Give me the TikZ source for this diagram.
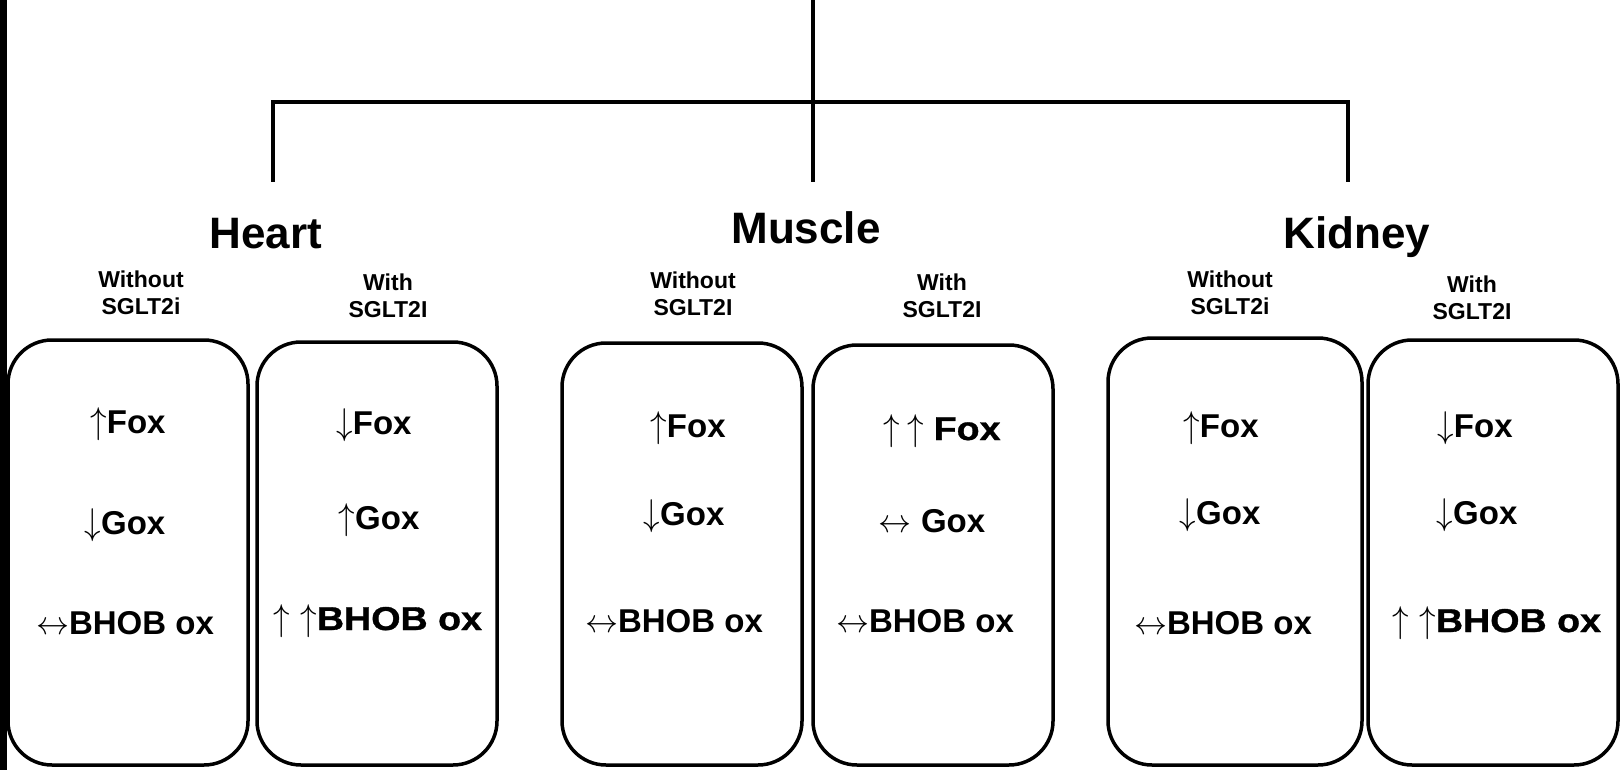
\RequirePackage{fix-cm}
\documentclass[tikz,border=0pt]{standalone}
\usepackage{fontspec}
\usepackage{graphicx}
\setmainfont{Liberation Sans}
\newfontfamily\heavyfont[BoldFeatures={FakeStretch=1.14,FakeBold=1}]{Liberation Sans}
\newcommand\myup{\scalebox{1}[1.13]{$\uparrow$}}
\newcommand\mydown{\scalebox{1}[1.13]{$\downarrow$}}
\newcommand\mylr{$\leftrightarrow$}
\begin{document}
\begin{tikzpicture}[x=1pt,y=-1pt,
  organ/.style={font=\bfseries\fontsize{44}{50}\selectfont, inner sep=0pt, anchor=base},
  cond/.style={font=\bfseries\fontsize{23}{27}\selectfont, align=center, inner sep=0pt},
  panel/.style={draw, line width=3.5pt, rounded corners=44pt, inner sep=0pt, minimum width=#1},
  entry/.style={font=\bfseries\fontsize{33}{40}\selectfont, inner sep=0pt, anchor=base},
  tree/.style={line width=4.5pt}]
\useasboundingbox (0,0) rectangle (1621,770);
\fill[white] (0,0) rectangle (1621,770);
\fill[black] (0,0) rectangle (7,770);

% tree
\coordinate (root) at (813,-3);
\coordinate (hub) at (813,102);
\coordinate (hd) at (273,182);
\coordinate (md) at (813,182);
\coordinate (kd) at (1348,182);
\draw[tree] (root) -- (md);
\draw[tree] (hd) |- (hub) -| (kd);

% organ labels
\node[organ] (heart) at (266,248) {Heart};
\node[organ] (muscle) at (806,243) {Muscle};
\node[organ] (kidney) at (1357,248) {Kidney};

% condition labels
\node[cond] (hwo) at (141,293) {Without\\SGLT2i};
\node[cond] (hw) at (388,296) {With\\SGLT2I};
\node[cond] (mwo) at (693,294) {Without\\SGLT2I};
\node[cond] (mw) at (942,296) {With\\SGLT2I};
\node[cond] (kwo) at (1230,293) {Without\\SGLT2i};
\node[cond] (kw) at (1472,298) {With\\SGLT2I};

% panels
\node[panel=240pt, minimum height=425pt] (b1) at (128,552.5) {};
\node[panel=240pt, minimum height=423pt] (b2) at (377,553.5) {};
\node[panel=240pt, minimum height=422pt] (b3) at (682,554) {};
\node[panel=240pt, minimum height=420pt] (b4) at (933,555) {};
\node[panel=254pt, minimum height=427pt] (b5) at (1235,551.5) {};
\node[panel=250pt, minimum height=425pt] (b6) at (1493,552.5) {};

% box 1
\node[entry] (b1f) at (128,433) {\myup Fox};
\node[entry] (b1g) at (125,534) {\mydown Gox};
\node[entry] (b1b) at (125,634) {\mylr BHOB ox};
% box 2
\node[entry] (b2f) at (374,434) {\mydown Fox};
\node[entry] (b2g) at (379,529) {\myup Gox};
\node[entry] (b2b) at (378,630) {\myup\kern10pt\myup{\heavyfont\bfseries BHOB ox}};
% box 3
\node[entry] (b3f) at (688,437) {\myup Fox};
\node[entry] (b3g) at (684,525) {\mydown Gox};
\node[entry] (b3b) at (674,632) {\mylr BHOB ox};
% box 4
\node[entry] (b4f) at (942,440) {\myup\kern8pt\myup\ {\heavyfont\bfseries Fox}};
\node[entry] (b4g) at (932,532) {\mylr\ Gox};
\node[entry] (b4b) at (925,632) {\mylr BHOB ox};
% box 5
\node[entry] (b5f) at (1221,437) {\myup Fox};
\node[entry] (b5g) at (1220,524) {\mydown Gox};
\node[entry] (b5b) at (1223,634) {\mylr BHOB ox};
% box 6
\node[entry] (b6f) at (1475,437) {\mydown Fox};
\node[entry] (b6g) at (1477,524) {\mydown Gox};
\node[entry] (b6b) at (1497,632) {\myup\kern10pt\myup{\heavyfont\bfseries BHOB ox}};
\end{tikzpicture}
\end{document}
